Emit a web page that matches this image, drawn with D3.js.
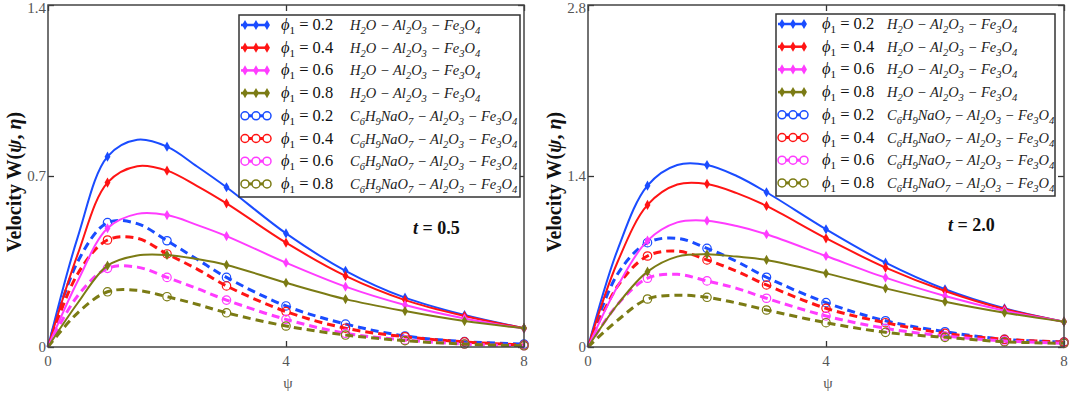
<!DOCTYPE html>
<html lang="en">
<head>
<meta charset="utf-8">
<title>velocity_panels</title>
<script src="https://cdn.jsdelivr.net/npm/d3@7"></script>
<style>
  body { margin: 0; background: #fff; }
  text { font-family: "Liberation Serif", "DejaVu Serif", serif; }
</style>
</head>
<body>
<script>
var W = 1072, H = 397;

// psi grid where the curves were read
var psi = [0, 0.5, 1, 1.5, 2, 2.5, 3, 4, 5, 6, 7, 8];
var markerPsi = [1, 2, 3, 4, 5, 6, 7, 8];
var phiLabels = ["0.2", "0.4", "0.6", "0.8"];
var colors = ["#1a4cff", "#ff1414", "#ff3cff", "#7b7b14"];
var xTicks = [0, 4, 8];

// t = 0.5 : H2O - Al2O3 - Fe3O4 (solid)
var t05Solid02 = [0, 0.45, 0.779, 0.848, 0.82, 0.74, 0.654, 0.465, 0.312, 0.202, 0.131, 0.077];
var t05Solid04 = [0, 0.38, 0.673, 0.740, 0.722, 0.66, 0.588, 0.427, 0.291, 0.192, 0.127, 0.077];
var t05Solid06 = [0, 0.27, 0.486, 0.545, 0.540, 0.50, 0.454, 0.345, 0.247, 0.172, 0.117, 0.075];
var t05Solid08 = [0, 0.18, 0.333, 0.375, 0.377, 0.36, 0.336, 0.263, 0.196, 0.147, 0.106, 0.077];
// t = 0.5 : C6H9NaO7 - Al2O3 - Fe3O4 (dashed)
var t05Dash02 = [0, 0.35, 0.509, 0.505, 0.435, 0.36, 0.285, 0.168, 0.094, 0.045, 0.022, 0.012];
var t05Dash04 = [0, 0.30, 0.438, 0.445, 0.381, 0.32, 0.250, 0.145, 0.077, 0.042, 0.021, 0.008];
var t05Dash06 = [0, 0.21, 0.322, 0.327, 0.285, 0.24, 0.192, 0.113, 0.056, 0.029, 0.012, 0.005];
var t05Dash08 = [0, 0.14, 0.226, 0.232, 0.206, 0.175, 0.140, 0.086, 0.049, 0.026, 0.012, 0.005];

// t = 2.0 : H2O - Al2O3 - Fe3O4 (solid)
var t20Solid02 = [0, 0.80, 1.321, 1.49, 1.490, 1.40, 1.267, 0.964, 0.690, 0.473, 0.317, 0.207];
var t20Solid04 = [0, 0.70, 1.163, 1.33, 1.335, 1.26, 1.155, 0.890, 0.650, 0.459, 0.311, 0.207];
var t20Solid06 = [0, 0.50, 0.871, 1.02, 1.034, 0.99, 0.923, 0.745, 0.568, 0.418, 0.297, 0.207];
var t20Solid08 = [0, 0.35, 0.617, 0.74, 0.759, 0.74, 0.713, 0.603, 0.480, 0.371, 0.281, 0.207];
// t = 2.0 : C6H9NaO7 - Al2O3 - Fe3O4 (dashed)
var t20Dash02 = [0, 0.60, 0.854, 0.890, 0.808, 0.70, 0.571, 0.363, 0.215, 0.125, 0.063, 0.040];
var t20Dash04 = [0, 0.50, 0.745, 0.785, 0.713, 0.62, 0.508, 0.317, 0.199, 0.112, 0.063, 0.040];
var t20Dash06 = [0, 0.35, 0.563, 0.595, 0.541, 0.48, 0.399, 0.254, 0.153, 0.090, 0.050, 0.030];
var t20Dash08 = [0, 0.22, 0.393, 0.424, 0.407, 0.36, 0.303, 0.199, 0.120, 0.079, 0.043, 0.030];

var svg = d3.select("body").append("svg")
    .attr("width", W)
    .attr("height", H);

function drawPanel(p) {
    var g = svg.append("g");
    var xScale = d3.scaleLinear().domain([0, 8]).range([p.x0, p.x1]);
    var yScale = d3.scaleLinear().domain([0, p.yMax]).range([347, 5]);

    // inward ticks on all four sides
    var tickLen = 6;
    g.append("g").attr("transform", "translate(0,347)")
        .call(d3.axisTop(xScale).tickValues(xTicks).tickSize(tickLen).tickFormat(""))
        .call(function(s){ s.select(".domain").remove(); });
    g.append("g").attr("transform", "translate(0,5)")
        .call(d3.axisBottom(xScale).tickValues(xTicks).tickSize(tickLen).tickFormat(""))
        .call(function(s){ s.select(".domain").remove(); });
    g.append("g").attr("transform", "translate(" + p.x0 + ",0)")
        .call(d3.axisRight(yScale).tickValues(p.yTicks).tickSize(tickLen).tickFormat(""))
        .call(function(s){ s.select(".domain").remove(); });
    g.append("g").attr("transform", "translate(" + p.x1 + ",0)")
        .call(d3.axisLeft(yScale).tickValues(p.yTicks).tickSize(tickLen).tickFormat(""))
        .call(function(s){ s.select(".domain").remove(); });
    g.selectAll(".tick line").attr("stroke", "#333").attr("stroke-width", 1.3);

    // tick labels
    g.selectAll(".xlab").data(xTicks).enter().append("text")
        .attr("x", function(d){ return xScale(d); })
        .attr("y", 366)
        .attr("text-anchor", "middle")
        .attr("font-size", "15px")
        .attr("fill", "#555")
        .text(function(d){ return d; });
    g.selectAll(".ylab").data(p.yTicks).enter().append("text")
        .attr("x", p.x0 - 2)
        .attr("y", function(d){ return Math.max(yScale(d) + 5, 13); })
        .attr("text-anchor", "end")
        .attr("font-size", "15px")
        .attr("fill", "#555")
        .text(function(d){ return p.yFmt(d); });

    // axis titles
    g.append("text")
        .attr("x", xScale(4) + 2)
        .attr("y", 388)
        .attr("text-anchor", "middle")
        .attr("font-size", "15px")
        .attr("fill", "#555")
        .text("ψ");
    var yt = g.append("text")
        .attr("transform", "translate(" + (p.x0 - 27) + ",182) rotate(-90)")
        .attr("text-anchor", "middle")
        .attr("font-size", "20px")
        .attr("font-weight", "bold")
        .attr("fill", "#111");
    yt.append("tspan").text("Velocity  W(");
    yt.append("tspan").attr("font-style", "italic").text("ψ");
    yt.append("tspan").text(", ");
    yt.append("tspan").attr("font-style", "italic").text("η");
    yt.append("tspan").text(")");

    var line = d3.line()
        .x(function(d){ return xScale(d[0]); })
        .y(function(d){ return yScale(d[1]); })
        .curve(d3.curveCatmullRom.alpha(0.5));

    var diamond = d3.symbol().type(d3.symbolDiamond).size(30);

    // dashed series first (they sit under the solids in places)
    p.dashed.forEach(function(vals, i){
        var pts = psi.map(function(x, k){ return [x, vals[k]]; });
        g.append("path").datum(pts)
            .attr("d", line)
            .attr("fill", "none")
            .attr("stroke", colors[i])
            .attr("stroke-width", 3)
            .attr("stroke-dasharray", "8,5");
        g.selectAll(null).data(pts.filter(function(d){ return markerPsi.indexOf(d[0]) >= 0; }))
            .enter().append("circle")
            .attr("cx", function(d){ return xScale(d[0]); })
            .attr("cy", function(d){ return yScale(d[1]); })
            .attr("r", 4.2)
            .attr("fill", "none")
            .attr("stroke", colors[i])
            .attr("stroke-width", 1.2);
    });
    p.solid.forEach(function(vals, i){
        var pts = psi.map(function(x, k){ return [x, vals[k]]; });
        g.append("path").datum(pts)
            .attr("d", line)
            .attr("fill", "none")
            .attr("stroke", colors[i])
            .attr("stroke-width", 2);
        g.selectAll(null).data(pts.filter(function(d){ return markerPsi.indexOf(d[0]) >= 0; }))
            .enter().append("path")
            .attr("d", diamond)
            .attr("transform", function(d){ return "translate(" + xScale(d[0]) + "," + yScale(d[1]) + ")"; })
            .attr("fill", colors[i]);
    });

    // frame
    g.append("rect")
        .attr("x", p.x0).attr("y", 5)
        .attr("width", p.x1 - p.x0).attr("height", 342)
        .attr("fill", "none")
        .attr("stroke", "#444")
        .attr("stroke-width", 1.5);

    // time label
    var tl = g.append("text")
        .attr("x", p.tx).attr("y", p.ty)
        .attr("font-size", "18px")
        .attr("font-weight", "bold")
        .attr("fill", "#111");
    tl.append("tspan").attr("font-style", "italic").text("t");
    tl.append("tspan").text(" = " + p.tVal);

    // legend
    var lg = g.append("g").attr("transform", "translate(" + p.lx + "," + p.ly + ")");
    lg.append("rect")
        .attr("x", 0).attr("y", 0)
        .attr("width", p.lw).attr("height", 182)
        .attr("fill", "#fff")
        .attr("stroke", "#333")
        .attr("stroke-width", 1.5);
    var rowH = 22.7;
    for (var r = 0; r < 8; r++) {
        var ci = r % 4;
        var yy = 10 + r * rowH;
        var isDash = r >= 4;
        lg.append("line")
            .attr("x1", 2).attr("x2", 30)
            .attr("y1", yy).attr("y2", yy)
            .attr("stroke", colors[ci])
            .attr("stroke-width", isDash ? 3 : 2.5);
        [6, 17, 28].forEach(function(mx){
            if (isDash) {
                lg.append("circle").attr("cx", mx).attr("cy", yy).attr("r", 4)
                    .attr("fill", "#fff").attr("stroke", colors[ci]).attr("stroke-width", 1.5);
            } else {
                lg.append("path").attr("d", diamond)
                    .attr("transform", "translate(" + mx + "," + yy + ")")
                    .attr("fill", colors[ci]);
            }
        });
        var pl = lg.append("text")
            .attr("x", p.phiX).attr("y", yy + 5)
            .attr("font-size", "16.5px")
            .attr("fill", "#111");
        pl.append("tspan").attr("font-style", "italic").text("ϕ");
        pl.append("tspan").attr("font-size", "11px").attr("dy", 4).text("1");
        pl.append("tspan").attr("dy", -4).text(" = " + phiLabels[ci]);

        var ft = lg.append("text")
            .attr("x", p.fX).attr("y", yy + 5)
            .attr("font-size", "14.5px")
            .attr("font-style", "italic")
            .attr("fill", "#222");
        var parts = isDash
            ? [["C"], ["6", 1], ["H"], ["9", 1], ["NaO"], ["7", 1], [" − Al"], ["2", 1], ["O"], ["3", 1], [" − Fe"], ["3", 1], ["O"], ["4", 1]]
            : [["H"], ["2", 1], ["O − Al"], ["2", 1], ["O"], ["3", 1], [" − Fe"], ["3", 1], ["O"], ["4", 1]];
        var down = false;
        parts.forEach(function(pt){
            var ts = ft.append("tspan").text(pt[0]);
            if (pt[1] && !down) { ts.attr("dy", 4).attr("font-size", "10.5px"); down = true; }
            else if (!pt[1] && down) { ts.attr("dy", -4); down = false; }
        });
    }
}

drawPanel({
    x0: 48, x1: 524, yMax: 1.4, yTicks: [0, 0.7, 1.4],
    yFmt: function(d){ return d === 0 ? "0" : d3.format(".1f")(d); },
    solid: [t05Solid02, t05Solid04, t05Solid06, t05Solid08],
    dashed: [t05Dash02, t05Dash04, t05Dash06, t05Dash08],
    tx: 413, ty: 234, tVal: "0.5",
    lx: 239, ly: 15, lw: 281, phiX: 42, fX: 111
});

drawPanel({
    x0: 588, x1: 1064, yMax: 2.8, yTicks: [0, 1.4, 2.8],
    yFmt: function(d){ return d === 0 ? "0" : d3.format(".1f")(d); },
    solid: [t20Solid02, t20Solid04, t20Solid06, t20Solid08],
    dashed: [t20Dash02, t20Dash04, t20Dash06, t20Dash08],
    tx: 948, ty: 231, tVal: "2.0",
    lx: 776, ly: 14, lw: 279, phiX: 46, fX: 111
});
</script>
</body>
</html>
